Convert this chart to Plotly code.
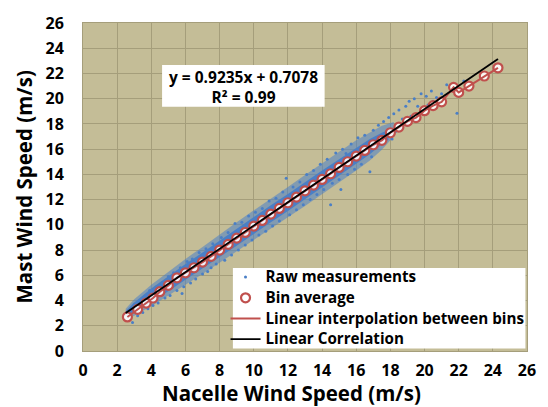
import plotly.graph_objects as go

# ---- data ----
bin_x = [2.6, 3.2, 3.7, 4.1, 4.5, 5.0, 5.5, 6.0, 6.5, 7.0, 7.5, 8.0, 8.5, 9.0, 9.5, 10.0,
         10.5, 11.0, 11.5, 12.0, 12.5, 13.0, 13.5, 14.0, 14.5, 15.0, 15.5, 16.0, 16.5,
         17.0, 17.5, 18.0, 18.5, 19.0, 19.5, 20.0, 20.5, 21.0, 21.7, 22.0, 22.6, 23.5, 24.3]
bin_y = [2.7, 3.3, 3.8, 4.2, 4.7, 5.2, 5.8, 6.2, 6.6, 7.05, 7.5, 8.0, 8.45, 8.95, 9.4, 9.9,
         10.35, 10.85, 11.3, 11.75, 12.2, 12.7, 13.15, 13.6, 14.05, 14.55, 15.0, 15.45, 15.9,
         16.35, 16.7, 17.3, 17.75, 18.2, 18.5, 19.05, 19.45, 19.75, 20.9, 20.5, 21.0, 21.8, 22.45]

corr_x = [2.5, 24.3]
corr_y = [3.02, 23.15]

# envelope of the dense cloud of raw measurements
env_x = [2.5, 3, 4, 5, 6, 7, 8, 9, 10, 11, 12, 13, 14, 15, 16, 16.8, 17.5, 18.2]
outer_up = [3.35, 4.1, 5.25, 6.3, 7.3, 8.25, 9.25, 10.2, 11.15, 12.05, 13.0, 13.95, 14.9, 15.8, 16.7, 17.3, 17.85, 18.15]
outer_lo = [2.45, 2.8, 3.55, 4.4, 5.25, 6.1, 7.0, 7.9, 8.75, 9.7, 10.6, 11.5, 12.4, 13.35, 14.3, 15.1, 15.95, 17.0]
inner_up = [3.15, 3.85, 4.95, 5.95, 6.9, 7.8, 8.75, 9.7, 10.6, 11.55, 12.45, 13.4, 14.3, 15.2, 16.1, 16.8, 17.3, 17.7]
inner_lo = [2.75, 3.1, 3.85, 4.75, 5.65, 6.55, 7.45, 8.35, 9.25, 10.2, 11.1, 12.0, 12.95, 13.9, 14.85, 15.6, 16.4, 17.35]

# scattered individual raw measurements around the cloud
raw_x = [2.55, 2.7, 2.9, 3.0, 3.2, 3.4, 3.5, 3.6, 3.8, 3.9, 4.1, 4.3, 4.4, 4.6, 4.8, 5.0, 5.1, 5.3,
         5.5, 5.7, 5.8, 5.9, 6.1, 6.3, 6.4, 6.6, 6.8, 7.0, 7.2, 7.3, 7.5, 7.6, 7.8,
         8.1, 8.3, 8.5, 8.7, 8.9, 9.1, 9.3, 9.5, 9.7, 9.9, 10.1, 10.3, 10.5, 10.7, 10.9, 11.1,
         11.3, 11.5, 11.7, 11.9, 12.1, 12.3, 12.5, 12.7, 12.9, 13.1, 13.3, 13.5, 13.7, 13.9,
         14.1, 14.3, 14.5, 14.6, 14.8, 15.0, 15.1, 15.2, 15.4, 15.5, 15.7, 15.9, 16.1, 16.3,
         16.5, 16.8, 16.9, 17.0, 17.2, 17.3, 17.5, 17.6, 17.8, 17.9, 18.1, 18.2, 18.3, 18.5,
         18.6, 18.7, 18.9, 19.0, 19.1, 19.2, 19.4, 19.5, 19.6, 19.8, 19.9, 20.1, 20.2, 20.4,
         20.5, 20.7, 21.0, 21.3, 21.9, 22.3]
raw_y = [2.9, 3.2, 2.25, 3.7, 2.8, 4.0, 3.05, 4.3, 3.35, 4.8, 3.6, 5.1, 3.8, 5.4, 4.2, 5.9, 4.4, 6.2,
         4.8, 6.6, 4.55, 5.1, 7.1, 5.4, 7.3, 5.7, 7.8, 6.1, 8.1, 6.3, 6.6, 8.5, 6.9,
         9.0, 7.2, 9.4, 7.6, 10.1, 8.0, 10.2, 8.4, 10.7, 8.8, 11.0, 9.2, 11.3, 9.5, 11.9, 9.9,
         12.1, 10.3, 12.6, 13.7, 10.8, 13.0, 11.2, 13.4, 11.6, 14.0, 12.0, 14.3, 12.4, 14.8,
         12.8, 15.2, 11.6, 13.3, 15.7, 13.6, 12.8, 16.0, 15.65, 14.0, 16.4, 14.4, 16.9, 14.8,
         17.1, 14.2, 15.4, 17.5, 16.2, 17.9, 16.5, 18.2, 16.8, 18.5, 16.8, 18.8, 17.4, 19.1,
         17.7, 18.4, 19.4, 17.9, 19.8, 18.6, 20.0, 18.3, 19.4, 20.4, 19.0, 20.2, 19.5, 20.6,
         19.8, 20.1, 20.4, 21.1, 18.85, 21.4]

x_ticks = list(range(0, 27, 2))
y_ticks = list(range(0, 27, 2))

series_names = ["Raw measurements", "Bin average",
                "Linear interpolation between bins", "Linear Correlation"]

BLUE = "#4a7fc6"
RED = "#c0504d"
BG = "#c4bd97"
GRID = "#a59e7b"
FONT = "Open Sans"


def legend_label(s):
    return "<span style='font-size:15.2px'>" + s + "</span>"


fig = go.Figure()

fig.add_trace(go.Scatter(
    x=env_x + env_x[::-1], y=outer_up + outer_lo[::-1],
    fill="toself", fillcolor="rgba(74,128,200,0.55)", line=dict(width=0),
    mode="lines", showlegend=False, hoverinfo="skip"))
fig.add_trace(go.Scatter(
    x=env_x + env_x[::-1], y=inner_up + inner_lo[::-1],
    fill="toself", fillcolor=BLUE, line=dict(width=0),
    mode="lines", showlegend=False, hoverinfo="skip"))
fig.add_trace(go.Scatter(
    x=raw_x, y=raw_y, mode="markers", name=legend_label(series_names[0]),
    marker=dict(size=3, color=BLUE), legendrank=1))
fig.add_trace(go.Scatter(
    x=bin_x, y=bin_y, mode="markers", name=legend_label(series_names[1]),
    marker=dict(size=9, color="rgba(255,255,255,0.9)", symbol="circle",
                line=dict(color=RED, width=2.2)), legendrank=2))
fig.add_trace(go.Scatter(
    x=bin_x, y=bin_y, mode="lines", name=legend_label(series_names[2]),
    line=dict(color=RED, width=2), legendrank=3))
fig.add_trace(go.Scatter(
    x=corr_x, y=corr_y, mode="lines", name=legend_label(series_names[3]),
    line=dict(color="black", width=1.8), legendrank=4))

axis_common = dict(
    range=[0, 26], tickvals=x_ticks, showgrid=True, gridcolor=GRID, gridwidth=1,
    zeroline=False, showline=True, mirror=True, linecolor=GRID, linewidth=1,
    ticks="", tickfont=dict(family=FONT, size=16, color="black", weight="bold"),
)

fig.update_layout(
    width=548, height=407,
    margin=dict(l=83, r=13, t=14, b=56),
    paper_bgcolor="white", plot_bgcolor=BG,
    xaxis=dict(axis_common, ticklabelstandoff=5),
    yaxis=dict(axis_common, tickvals=y_ticks, ticklabelstandoff=15),
    showlegend=True,
    legend=dict(x=0.321, y=0.272, xanchor="left", yanchor="top",
                bgcolor="rgba(0,0,0,0)", borderwidth=0,
                font=dict(family=FONT, size=13.6, color="black", weight="bold"),
                itemwidth=30, tracegroupgap=0),
    shapes=[
        dict(type="rect", xref="paper", yref="paper",
             x0=0.3376, x1=0.9965, y0=0.008, y1=0.253,
             fillcolor="white", line=dict(width=0), layer="above"),
        dict(type="rect", xref="paper", yref="paper",
             x0=0.1781, x1=0.5442, y0=0.7446, y1=0.8723,
             fillcolor="white", line=dict(width=0), layer="above"),
    ],
    annotations=[
        dict(text="y = 0.9235x + 0.7078<br>R² = 0.99", xref="paper", yref="paper",
             x=0.3608, y=0.8055, xanchor="center", yanchor="middle", showarrow=False,
             align="center",
             font=dict(family=FONT, size=15.5, color="black", weight="bold")),
        dict(text="Nacelle Wind Speed (m/s)", xref="paper", yref="paper",
             x=0.469, y=-0.128, xanchor="center", yanchor="middle", showarrow=False,
             font=dict(family=FONT, size=20.5, color="black", weight="bold")),
        dict(text="Mast Wind Speed (m/s)", xref="paper", yref="paper",
             x=-0.134, y=0.5, xanchor="center", yanchor="middle", showarrow=False,
             textangle=-90,
             font=dict(family=FONT, size=20.5, color="black", weight="bold")),
    ],
)

fig.write_html("out.html",
               config={"displayModeBar": False},
               post_script="document.body.style.margin='0';document.body.style.overflow='hidden';")
